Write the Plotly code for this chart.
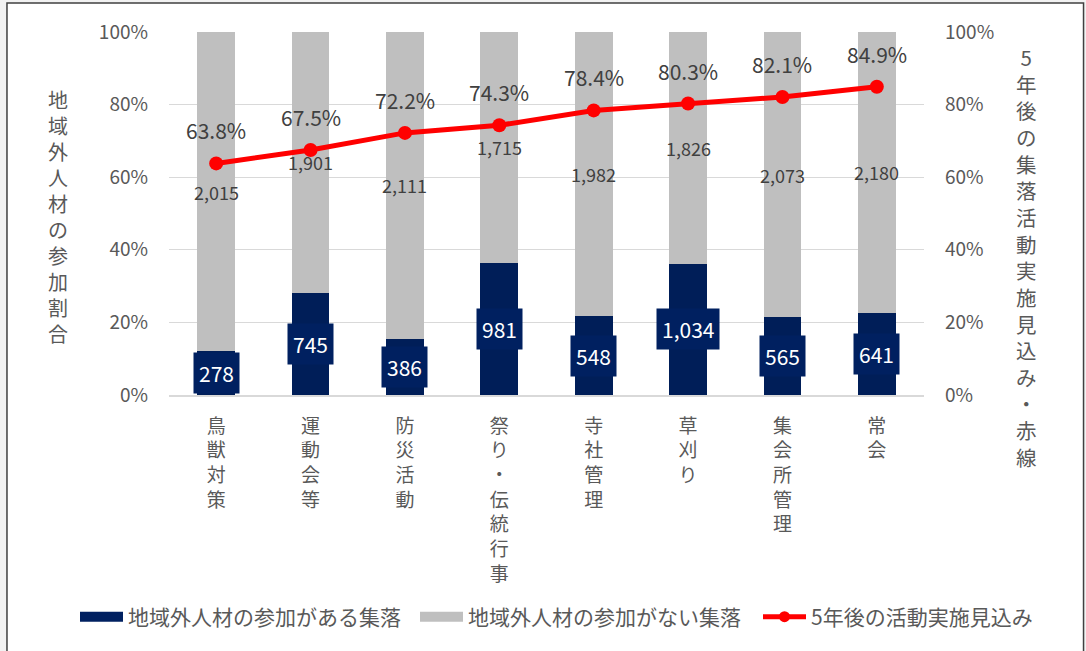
import plotly.graph_objects as go

categories = ["鳥獣対策", "運動会等", "防災活動", "祭り・伝統行事", "寺社管理", "草刈り", "集会所管理", "常会"]
with_outside = [278, 745, 386, 981, 548, 1034, 565, 641]
without_outside = [2015, 1901, 2111, 1715, 1982, 1826, 2073, 2180]
outlook_5yr = [0.638, 0.675, 0.722, 0.743, 0.784, 0.803, 0.821, 0.849]
y_ticks = [0, 20, 40, 60, 80, 100]

name_with = "地域外人材の参加がある集落"
name_without = "地域外人材の参加がない集落"
name_line = "5年後の活動実施見込み"
left_title = "地域外人材の参加割合"
right_title = "5年後の集落活動実施見込み・赤線"

NAVY = "#002060"
BAR_NAVY = "#001E58"
GRAY = "#BFBFBF"
RED = "#FF0000"
TXT = "#595959"
DARK = "#404040"
FONT = "Noto Sans CJK JP"

totals = [a + b for a, b in zip(with_outside, without_outside)]
pct_with = [a / t * 100 for a, t in zip(with_outside, totals)]
pct_without = [b / t * 100 for b, t in zip(without_outside, totals)]

fig = go.Figure()
fig.add_trace(go.Bar(x=categories, y=pct_with, name=name_with, showlegend=False,
                     marker=dict(color=BAR_NAVY, line=dict(width=0))))
fig.add_trace(go.Bar(x=categories, y=pct_without, name=name_without, showlegend=False,
                     marker=dict(color=GRAY, line=dict(width=0))))
fig.add_trace(go.Scatter(x=categories, y=outlook_5yr, name=name_line, yaxis="y2", mode="lines+markers",
                         line=dict(color=RED, width=5), marker=dict(color=RED, size=14), showlegend=False))
# legend entries (wide colour keys like the reference), one legend each for exact placement
fig.add_trace(go.Scatter(x=[None], y=[None], mode="lines", name=name_with, legend="legend",
                         line=dict(color=NAVY, width=10)))
fig.add_trace(go.Scatter(x=[None], y=[None], mode="lines", name=name_without, legend="legend2",
                         line=dict(color=GRAY, width=10)))
fig.add_trace(go.Scatter(x=[None], y=[None], mode="lines+markers", name=name_line, legend="legend3",
                         line=dict(color=RED, width=5), marker=dict(color=RED, size=11)))

annotations = []
for c, pw, pwo, a, b, o in zip(categories, pct_with, pct_without, with_outside, without_outside, outlook_5yr):
    annotations.append(dict(x=c, y=pw / 2, xref="x", yref="y", text=f"{a:,}", showarrow=False,
                            font=dict(family=FONT, size=21, color="white"), bgcolor=NAVY, borderpad=5))
    annotations.append(dict(x=c, y=pw + pwo / 2, xref="x", yref="y", text=f"{b:,}", showarrow=False,
                            font=dict(family=FONT, size=18, color=DARK)))
    annotations.append(dict(x=c, y=o, xref="x", yref="y2", text=f"{o*100:.1f}%", showarrow=False, yshift=33,
                            font=dict(family=FONT, size=21, color=DARK)))

annotations.append(dict(x=-0.147, y=0.493, xref="paper", yref="paper", text="<br>".join(left_title),
                        showarrow=False, xanchor="center", yanchor="middle",
                        font=dict(family=FONT, size=20, color=TXT)))
annotations.append(dict(x=1.136, y=0.38, xref="paper", yref="paper", text="<br>".join(right_title),
                        showarrow=False, xanchor="center", yanchor="middle",
                        font=dict(family=FONT, size=20.5, color=TXT)))

legend_common = dict(orientation="h", xref="container", yref="container", y=0.0522,
                     xanchor="left", yanchor="middle", font=dict(family=FONT, size=21, color=TXT),
                     bgcolor="rgba(0,0,0,0)", itemwidth=43)

fig.update_layout(
    width=1086, height=651,
    margin=dict(l=169, r=162, t=32, b=256, autoexpand=False),
    barmode="stack", bargap=0.6,
    paper_bgcolor="#F2F2F2", plot_bgcolor="rgba(0,0,0,0)",
    font=dict(family=FONT, color=TXT),
    showlegend=True,
    legend=dict(legend_common, x=75 / 1086),
    legend2=dict(legend_common, x=415 / 1086),
    legend3=dict(legend_common, x=758 / 1086),
    xaxis=dict(tickmode="array", tickvals=categories, ticktext=["<br>".join(c) for c in categories],
               tickfont=dict(family=FONT, size=19, color=TXT), showgrid=False, showline=True,
               linecolor="#D9D9D9", linewidth=1.5, ticks="", ticklabelstandoff=13, automargin=False),
    yaxis=dict(range=[0, 100], tickvals=y_ticks, ticktext=[f"{v}%" for v in y_ticks],
               tickfont=dict(family=FONT, size=19, color=TXT), gridcolor="#D9D9D9", gridwidth=1,
               zeroline=False, showline=False, ticks="", ticklabelstandoff=20, automargin=False),
    yaxis2=dict(range=[0, 1], overlaying="y", side="right", tickvals=[v / 100 for v in y_ticks],
                ticktext=[f"{v}%" for v in y_ticks], tickfont=dict(family=FONT, size=19, color=TXT),
                showgrid=False, zeroline=False, showline=False, ticks="", ticklabelstandoff=20,
                automargin=False),
    annotations=annotations,
    shapes=[dict(type="rect", xref="paper", yref="paper", x0=-0.2146, x1=1.2113, y0=-0.71, y1=1.0799,
                 line=dict(color=DARK, width=1.5), fillcolor="white", layer="below")],
)

fig.write_html("out.html", config={"displayModeBar": False},
               post_script="document.body.style.margin='0';document.body.style.overflow='hidden';")
